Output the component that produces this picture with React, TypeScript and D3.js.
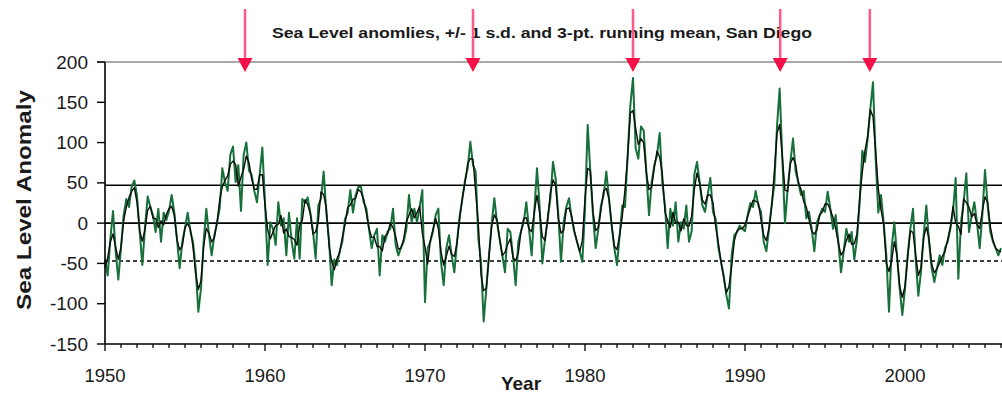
import React from 'react';
import * as d3 from 'd3';

// Bimonthly sea level anomaly samples (mm), starting Jan 1950, 6 per year
const START_YEAR = 1950;
const STEPS_PER_YEAR = 6;

const anomalies1950s = [
  -45, -65, -20, 15, -35, -70,
  -30, 10, 30, 20, 45, 53,
  34, -10, -52, -5, 33, 20,
  10, -11, 18, -23, 13, 4,
  15, 35, 13, -20, -56, -23,
  -6, 13, -10, -23, -56, -110,
  -81, -23, 18, -15, -40, -15,
  0, 18, 68, 51, 40, 85,
  95, 51, 72, 15, 85, 100,
  65, 60, 40, 26, 60, 94,
];
const anomalies1960s = [
  26, -52, 1, -7, -27, 26,
  -3, 6, -40, 13, -23, -44,
  6, -44, 30, 25, 32, 13,
  -10, -44, 22, 30, 64, 13,
  -20, -77, -45, -52, -35, -23,
  5, 13, 41, 13, 35, 45,
  45, 26, 18, -7, -31, -15,
  -7, -65, -15, -23, -10, -7,
  18, -27, -40, -30, -23, -7,
  35, 1, 18, 1, 20, 41,
];
const anomalies1970s = [
  -98, -31, -23, -10, 10, 18,
  -48, -77, -31, -15, -40, -61,
  -23, 9, 30, 53, 68, 101,
  72, 64, -19, -48, -122, -81,
  -40, -1, 31, 1, -20, -40,
  -61, -7, -11, -40, -77, -23,
  -10, 1, 26, -7, -40, 15,
  68, 20, -50, -20, 5, 30,
  76, 55, 10, -48, 1, 20,
  31, 6, -11, -23, -35, -48,
];
const anomalies1980s = [
  18, 122, 64, 10, -31, -7,
  22, 35, 64, 30, -3, -31,
  -52, -15, 22, 20, 84, 146,
  180, 93, 80, 120, 115, 64,
  10, 51, 72, 84, 112, 50,
  22, -31, 18, -3, 26, -23,
  1, -7, 22, -23, -10, 60,
  76, 51, 22, 14, 35, 56,
  14, 5, -30, -48, -65, -89,
  -106, -40, -15, -11, -3, -7,
];
const anomalies1990s = [
  -10, 10, 25, 20, 40, 22,
  14, -23, -35, -7, 22, 48,
  120, 167, 80, 0, 43, 75,
  105, 64, 51, 35, 40, 6,
  14, -7, -35, 1, 10, 18,
  14, 39, 18, -7, 10, -23,
  -61, -35, -7, -23, -11, -45,
  -20, 25, 90, 76, 105, 142,
  175, 80, 13, 35, 1, -40,
  -110, -30, 1, -40, -81, -114,
];
const anomalies2000s = [
  -81, -40, -7, 18, -45, -90,
  -60, -15, 22, -23, -56, -73,
  -56, -40, -52, -31, -23, -7,
  14, 56, -69, 1, 26, 62,
  -11, 9, 26, 1, -31, 10,
  66, 22, -11, -23, -31, -40,
  -31,
];

const sdValue = 47;
const yTicks = [-150, -100, -50, 0, 50, 100, 150, 200];
const decadeTicks = [1950, 1960, 1970, 1980, 1990, 2000];
const eventYears = [1958.75, 1973.0, 1983.0, 1992.2, 1997.8];
const titleText = 'Sea Level anomlies, +/- 1 s.d. and 3-pt. running mean, San Diego';
const yLabel = 'Sea Level Anomaly';
const xLabel = 'Year';

const FONT = '"Liberation Sans", Arial, Helvetica, sans-serif';

export default function App() {
  const W = 1002;
  const H = 394;
  const x = d3.scaleLinear().domain([1950, 2006.25]).range([105, 1005]);
  const y = d3.scaleLinear().domain([-150, 200]).range([344, 62]);

  const values = [
    ...anomalies1950s,
    ...anomalies1960s,
    ...anomalies1970s,
    ...anomalies1980s,
    ...anomalies1990s,
    ...anomalies2000s,
  ];
  const pts = values.map((v, i) => ({ t: START_YEAR + i / STEPS_PER_YEAR, v }));
  const mean = pts.map((p, i) => {
    const w = values.slice(Math.max(0, i - 1), Math.min(values.length, i + 2));
    return { t: p.t, v: d3.mean(w) as number };
  });
  const line = d3
    .line<{ t: number; v: number }>()
    .x((d) => x(d.t))
    .y((d) => y(d.v));

  const minorTicks = d3.range(1950, 2007);
  const x0 = x(1950);
  const yBottom = y(-150);
  const textColor = '#1a1a1a';

  return (
    <svg
      width={W}
      height={H}
      style={{ position: 'absolute', left: 0, top: 0, background: '#fff' }}
      fontFamily={FONT}
    >
      <rect x={0} y={0} width={W} height={H} fill="#fff" />
      {/* top gridline at 200 */}
      <line x1={x0 - 8} x2={W} y1={y(200)} y2={y(200)} stroke="#555" strokeWidth={1.2} />
      {/* reference lines */}
      <line x1={x0} x2={W} y1={y(0)} y2={y(0)} stroke="#000" strokeWidth={1.6} />
      <line x1={x0} x2={W} y1={y(sdValue)} y2={y(sdValue)} stroke="#000" strokeWidth={1.6} />
      <line
        x1={x0}
        x2={W}
        y1={y(-sdValue)}
        y2={y(-sdValue)}
        stroke="#000"
        strokeWidth={1.6}
        strokeDasharray="4,3"
      />
      {/* data */}
      <path d={line(pts) || ''} fill="none" stroke="#17703a" strokeWidth={2} strokeLinejoin="round" />
      <path d={line(mean) || ''} fill="none" stroke="#0a0f0a" strokeWidth={1.4} strokeLinejoin="round" />
      {/* y axis */}
      <line x1={x0} x2={x0} y1={y(200)} y2={yBottom} stroke="#000" strokeWidth={1.6} />
      {yTicks.map((t) => (
        <g key={t}>
          <line x1={x0 - 8} x2={x0} y1={y(t)} y2={y(t)} stroke="#000" strokeWidth={1.4} />
          <text x={88} y={y(t) + 6.5} textAnchor="end" fontSize={19} fill={textColor}>
            {t}
          </text>
        </g>
      ))}
      {/* x axis */}
      <line x1={x0} x2={W} y1={yBottom} y2={yBottom} stroke="#000" strokeWidth={1.6} />
      {minorTicks.map((t) => (
        <line
          key={t}
          x1={x(t)}
          x2={x(t)}
          y1={yBottom}
          y2={yBottom + (t % 10 === 0 ? 7 : 4)}
          stroke="#000"
          strokeWidth={1.3}
        />
      ))}
      {decadeTicks.map((t) => (
        <text key={t} x={x(t)} y={382} textAnchor="middle" fontSize={18.5} fill={textColor}>
          {t}
        </text>
      ))}
      {/* labels */}
      <text x={521} y={390} textAnchor="middle" fontSize={19} fontWeight="bold" fill={textColor}>
        {xLabel}
      </text>
      <text
        transform="translate(31,200) rotate(-90)"
        textAnchor="middle"
        fontSize={20}
        fontWeight="bold"
        fill={textColor}
        textLength={220}
        lengthAdjust="spacingAndGlyphs"
      >
        {yLabel}
      </text>
      <text
        x={272}
        y={38}
        fontSize={14}
        fontWeight="bold"
        fill={textColor}
        textLength={540}
        lengthAdjust="spacingAndGlyphs"
      >
        {titleText}
      </text>
      {/* event arrows */}
      {eventYears.map((t) => {
        const cx = x(t);
        return (
          <g key={t}>
            <line x1={cx} x2={cx} y1={9} y2={60} stroke="#ff5a85" strokeWidth={2.5} />
            <path d={`M${cx - 7.5},58 L${cx + 7.5},58 L${cx},72 Z`} fill="#f5104a" />
          </g>
        );
      })}
    </svg>
  );
}
